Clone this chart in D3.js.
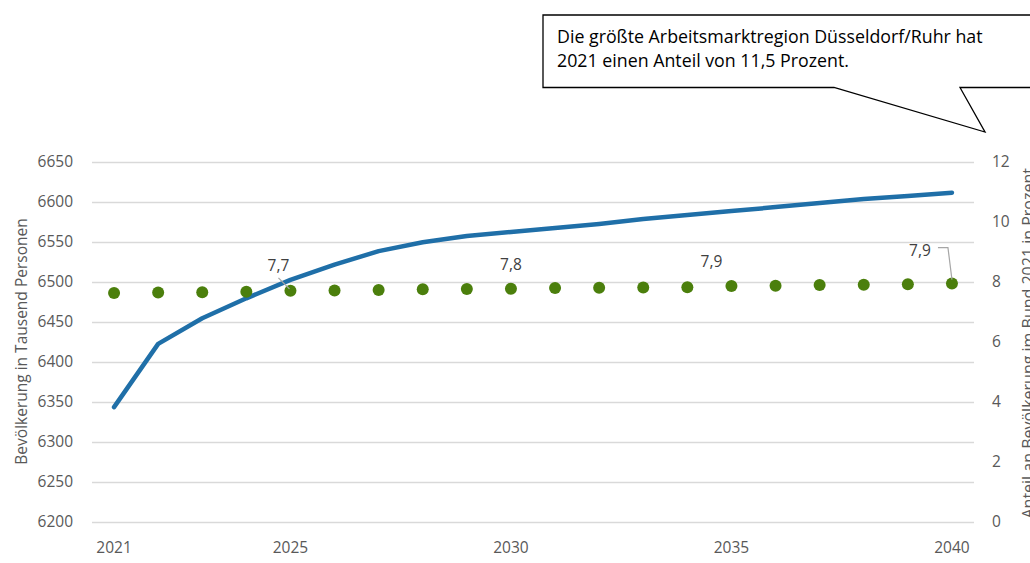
<!DOCTYPE html>
<html>
<head>
<meta charset="utf-8">
<script src="https://cdn.jsdelivr.net/npm/d3@7"></script>
<style>
  body { margin: 0; background: #fff; }
  svg { display: block; font-family: "Open Sans", sans-serif; }
</style>
</head>
<body>
<div id="chart"></div>
<script>
var svgWidth = 1030;
var svgHeight = 563;

// data
var years = [2021, 2022, 2023, 2024, 2025, 2026, 2027, 2028, 2029, 2030,
             2031, 2032, 2033, 2034, 2035, 2036, 2037, 2038, 2039, 2040];
var population = [6343, 6422, 6454, 6479, 6502, 6521, 6538, 6549, 6557, 6562,
                  6567, 6572, 6578, 6583, 6588, 6593, 6598, 6603, 6607, 6611];
var share = [7.62, 7.63, 7.64, 7.66, 7.69, 7.70, 7.72, 7.74, 7.75, 7.76,
             7.78, 7.79, 7.80, 7.81, 7.85, 7.86, 7.88, 7.89, 7.91, 7.93];
var xTickYears = [2021, 2025, 2030, 2035, 2040];
var leftTicks = [6200, 6250, 6300, 6350, 6400, 6450, 6500, 6550, 6600, 6650];
var rightTicks = [0, 2, 4, 6, 8, 10, 12];
var labelYears = [2025, 2030, 2035, 2040];
var labelTexts = ["7,7", "7,8", "7,9", "7,9"];
var calloutLines = ["Die größte Arbeitsmarktregion Düsseldorf/Ruhr hat",
                    "2021 einen Anteil von 11,5 Prozent."];

var plot = { left: 92, right: 974, top: 161.5, bottom: 521.5 };

var svg = d3.select("#chart").append("svg")
  .attr("width", svgWidth)
  .attr("height", svgHeight);

var x = d3.scaleBand().domain(years).range([plot.left, plot.right]);
var cx = function(yr) { return x(yr) + x.bandwidth() / 2; };
var yLeft = d3.scaleLinear().domain([6200, 6650]).range([plot.bottom, plot.top]);
var yRight = d3.scaleLinear().domain([0, 12]).range([plot.bottom, plot.top]);

// gridlines
svg.append("g").selectAll("line")
  .data(leftTicks)
  .enter().append("line")
  .attr("x1", plot.left).attr("x2", plot.right)
  .attr("y1", d => Math.round(yLeft(d)) + 0.5)
  .attr("y2", d => Math.round(yLeft(d)) + 0.5)
  .attr("stroke", "#d9d9d9")
  .attr("stroke-width", 1.3);

function styleTicks(g) {
  g.select(".domain").remove();
  g.selectAll("text")
    .attr("font-size", "15.5px")
    .attr("fill", "#595959")
    .attr("font-family", "'Open Sans', sans-serif");
}

// left axis labels
var leftAxis = d3.axisLeft(yLeft).tickValues(leftTicks).tickFormat(d3.format("d")).tickSize(0).tickPadding(19);
svg.append("g").attr("transform", `translate(${plot.left}, 0)`).call(leftAxis).call(styleTicks);

// right axis labels
var rightAxis = d3.axisRight(yRight).tickValues(rightTicks).tickFormat(d3.format("d")).tickSize(0).tickPadding(18);
svg.append("g").attr("transform", `translate(${plot.right}, 0)`).call(rightAxis).call(styleTicks);

// x axis labels
var bottomAxis = d3.axisBottom(x).tickValues(xTickYears).tickFormat(d3.format("d")).tickSize(0).tickPadding(20);
svg.append("g").attr("transform", `translate(0, ${plot.bottom})`).call(bottomAxis).call(styleTicks);

// axis titles
svg.append("text")
  .attr("transform", `translate(27, ${(plot.top + plot.bottom) / 2}) rotate(-90)`)
  .attr("text-anchor", "middle")
  .attr("font-size", "15.5px")
  .attr("fill", "#595959")
  .text("Bevölkerung in Tausend Personen");

svg.append("text")
  .attr("transform", "translate(1034, 168) rotate(-90)")
  .attr("text-anchor", "end")
  .attr("font-size", "16px")
  .attr("fill", "#595959")
  .text("Anteil an Bevölkerung im Bund 2021 in Prozent");

// population line
var line = d3.line()
  .x((d, i) => cx(years[i]))
  .y(d => yLeft(d));

svg.append("path")
  .datum(population)
  .attr("d", line)
  .attr("fill", "none")
  .attr("stroke", "#1f6fa8")
  .attr("stroke-width", 4.5)
  .attr("stroke-linejoin", "round")
  .attr("stroke-linecap", "round");

// share dots
svg.append("g").selectAll("circle")
  .data(share)
  .enter().append("circle")
  .attr("cx", (d, i) => cx(years[i]))
  .attr("cy", d => yRight(d))
  .attr("r", 6)
  .attr("fill", "#4b7f0c");

// data labels (with leader lines where Excel moved them)
var labelOffsets = [[-12, -20], [0, -19], [-20, -19], [-32, -28]];
labelYears.forEach(function(yr, k) {
  var i = years.indexOf(yr);
  var px = cx(yr), py = yRight(share[i]);
  var lx = px + labelOffsets[k][0], ly = py + labelOffsets[k][1];
  svg.append("text")
    .attr("x", lx).attr("y", ly)
    .attr("text-anchor", "middle")
    .attr("font-size", "15.5px")
    .attr("fill", "#404040")
    .text(labelTexts[k]);
  if (k === 0) {
    svg.append("line")
      .attr("x1", px - 12).attr("y1", py - 13)
      .attr("x2", px - 1).attr("y2", py - 2)
      .attr("stroke", "#a6a6a6").attr("stroke-width", 1.2);
  }
  if (k === 3) {
    svg.append("polyline")
      .attr("points", `${lx + 18},${ly - 8} ${px - 4},${ly - 8} ${px},${py - 4}`)
      .attr("fill", "none")
      .attr("stroke", "#a6a6a6").attr("stroke-width", 1.2);
  }
});

// callout box
svg.append("path")
  .attr("d", "M543,15 L1040,15 L1040,87.5 L960,87.5 L985,132 L834,87.5 L543,87.5 Z")
  .attr("fill", "#fff")
  .attr("stroke", "#000")
  .attr("stroke-width", 1.3);

svg.append("g").selectAll("text")
  .data(calloutLines)
  .enter().append("text")
  .attr("x", 557)
  .attr("y", (d, i) => 43 + i * 24)
  .attr("font-size", "17.8px")
  .attr("fill", "#000")
  .text(d => d);
</script>
</body>
</html>
